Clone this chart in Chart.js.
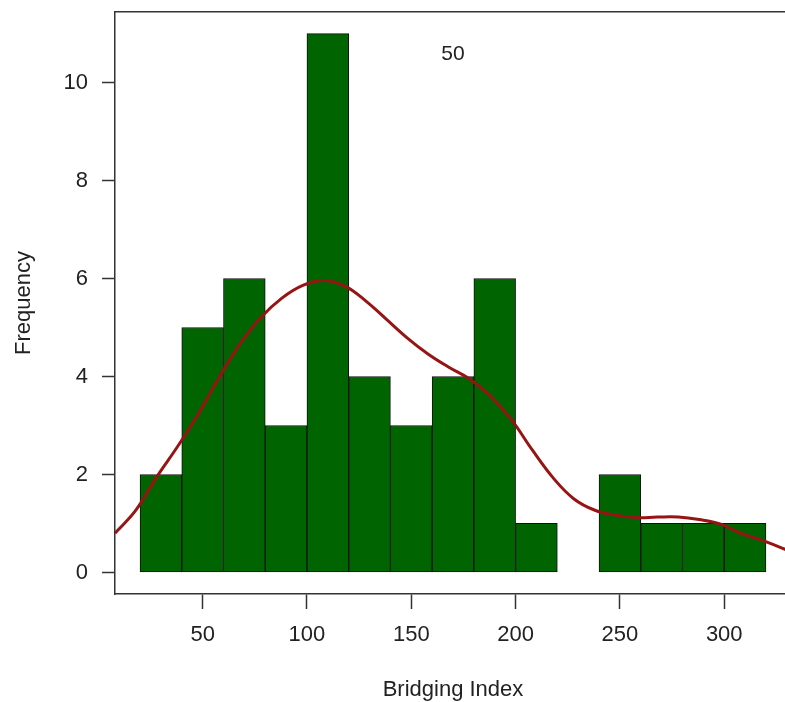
<!DOCTYPE html>
<html>
<head>
<meta charset="utf-8">
<title>Bridging Index histogram</title>
<script src="https://cdn.jsdelivr.net/npm/chart.js@4/dist/chart.umd.min.js"></script>
<style>
  html, body { margin: 0; padding: 0; background: #fff; overflow: hidden; }
  #wrap { width: 800px; height: 702px; }
</style>
</head>
<body>
<div id="wrap"><canvas id="histChart" width="800" height="702"></canvas></div>
<script>
// Histogram bins (centres, width 20) and counts
const binCentres = [30, 50, 70, 90, 110, 130, 150, 170, 190, 210, 230, 250, 270, 290, 310];
const binCounts  = [2, 5, 6, 3, 11, 4, 3, 4, 6, 1, 0, 2, 1, 1, 1];

// Density curve (in frequency units)
const curveX = [8, 18, 28, 38, 48, 58, 68, 78, 88, 98, 108, 118, 128, 138, 148, 158, 168, 178, 188, 198, 208, 218, 228, 238, 248, 258, 268, 278, 288, 298, 308, 318, 328, 332];
const curveY = [0.80, 1.27, 1.95, 2.57, 3.24, 3.99, 4.67, 5.21, 5.60, 5.86, 5.96, 5.85, 5.55, 5.17, 4.79, 4.46, 4.19, 3.95, 3.60, 3.12, 2.50, 1.93, 1.50, 1.27, 1.17, 1.12, 1.13, 1.13, 1.08, 0.99, 0.80, 0.66, 0.49, 0.43];

const xTicks = [50, 100, 150, 200, 250, 300];
const yTicks = [0, 2, 4, 6, 8, 10];
const cornerLabel = { text: '50', x: 170, y: 10.57 };

const font = 'Liberation Sans, Arial, Helvetica, sans-serif';
const axisColor = '#333';

// draws the "50" label in data coordinates
const cornerText = {
    id: 'cornerText',
    afterDatasetsDraw(chart) {
        const { ctx, scales } = chart;
        ctx.save();
        ctx.font = '21px ' + font;
        ctx.fillStyle = '#222';
        ctx.textAlign = 'center';
        ctx.textBaseline = 'middle';
        ctx.fillText(cornerLabel.text, scales.x.getPixelForValue(cornerLabel.x), scales.y.getPixelForValue(cornerLabel.y));
        ctx.restore();
    }
};

// keep the plot box exactly where the reference has it
const noPad = (s) => { s.paddingTop = 0; s.paddingBottom = 0; s.paddingLeft = 0; s.paddingRight = 0; };

const ctx = document.getElementById('histChart').getContext('2d');
new Chart(ctx, {
    type: 'bar',
    data: {
        datasets: [{
            type: 'line',
            data: curveX.map((x, i) => ({ x: x, y: curveY[i] })),
            borderColor: '#961414',
            borderWidth: 3,
            pointRadius: 0,
            tension: 0.4,
            fill: false,
            order: 0
        }, {
            type: 'bar',
            data: binCentres.map((x, i) => ({ x: x, y: binCounts[i] })),
            backgroundColor: '#006400',
            borderColor: '#111',
            borderWidth: 1,
            borderSkipped: false,
            barPercentage: 1,
            categoryPercentage: 1,
            order: 1
        }]
    },
    options: {
        responsive: false,
        animation: false,
        devicePixelRatio: 1,
        layout: { padding: 0 },
        plugins: { legend: { display: false }, tooltip: { enabled: false } },
        scales: {
            x: {
                type: 'linear',
                position: 'bottom',
                min: 8,
                max: 332,
                offset: false,
                afterBuildTicks: (s) => { s.ticks = xTicks.map(v => ({ value: v })); },
                afterFit: (s) => { s.height = 108; noPad(s); },
                grid: { offset: false, drawOnChartArea: false, tickLength: 15, tickColor: axisColor, tickWidth: 1.5 },
                border: { display: true, color: axisColor, width: 1.5 },
                ticks: { color: '#222', padding: 13, maxRotation: 0, font: { family: font, size: 22 } },
                title: { display: true, text: 'Bridging Index', color: '#222', padding: { top: 0, bottom: 1 }, font: { family: font, size: 22, lineHeight: 1 } }
            },
            y: {
                type: 'linear',
                position: 'left',
                min: -0.44,
                max: 11.44,
                afterBuildTicks: (s) => { s.ticks = yTicks.map(v => ({ value: v })); },
                afterFit: (s) => { s.width = 115; noPad(s); },
                grid: { drawOnChartArea: false, tickLength: 13, tickColor: axisColor, tickWidth: 1.5 },
                border: { display: true, color: axisColor, width: 1.5 },
                ticks: { color: '#222', padding: 14, font: { family: font, size: 22 } },
                title: { display: true, text: 'Frequency', color: '#222', padding: { top: 13, bottom: 0 }, font: { family: font, size: 22, lineHeight: 1 } }
            },
            x2: {
                type: 'linear',
                axis: 'x',
                position: 'top',
                min: 8,
                max: 332,
                afterFit: (s) => { s.height = 12; noPad(s); },
                grid: { display: false, drawTicks: false },
                border: { display: true, color: axisColor, width: 1.5 },
                ticks: { display: false }
            },
            y2: {
                type: 'linear',
                axis: 'y',
                position: 'right',
                min: -0.44,
                max: 11.44,
                afterFit: (s) => { s.width = 9; noPad(s); },
                grid: { display: false, drawTicks: false },
                border: { display: true, color: axisColor, width: 1.5 },
                ticks: { display: false }
            }
        }
    },
    plugins: [cornerText]
});
</script>
</body>
</html>
